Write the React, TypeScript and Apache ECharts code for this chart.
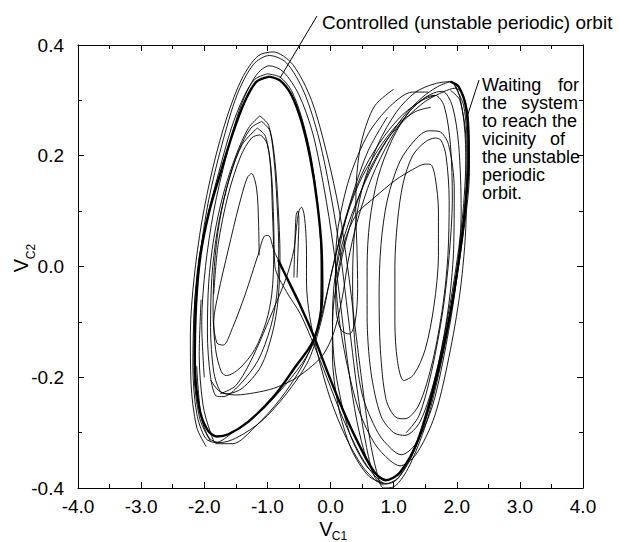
import React, { useEffect, useRef } from 'react';
import * as echarts from 'echarts';

const FONT = "'Liberation Sans', Arial, Helvetica, sans-serif";

const xRange = [-4, 4];
const yRange = [-0.4, 0.4];
const xStep = 1;
const yStep = 0.2;

// Controlled (unstable periodic) orbit, left scroll (thick)
const controlledLeft = [
  [-0.97, 0.343], [-0.8, 0.336], [-0.62, 0.31], [-0.46, 0.262], [-0.32, 0.195], [-0.21, 0.115],
  [-0.14, 0.03], [-0.13, -0.05], [-0.18, -0.1], [-0.3, -0.14], [-0.55, -0.18], [-0.9, -0.235],
  [-1.3, -0.28], [-1.62, -0.303], [-1.8, -0.307], [-1.95, -0.295], [-2.08, -0.255], [-2.15, -0.17],
  [-2.13, -0.07], [-2.06, 0.02], [-1.92, 0.1], [-1.74, 0.17], [-1.55, 0.24], [-1.37, 0.295],
  [-1.18, 0.333], [-0.97, 0.343],
];
// Controlled orbit, crossing to and around the right scroll (thick)
const controlledRight = [
  [-0.83, 0.012], [-0.65, -0.03], [-0.48, -0.07], [-0.25, -0.13], [-0.06, -0.187], [0.2, -0.26],
  [0.47, -0.326], [0.7, -0.372], [0.875, -0.386], [1.1, -0.372], [1.4, -0.31], [1.7, -0.19],
  [1.95, -0.05], [2.12, 0.09], [2.19, 0.2], [2.15, 0.285], [2.03, 0.325], [1.9, 0.334],
];
// Return of that loop along the left side of the right scroll
const rightLoopReturn = [
  [1.9, 0.334], [1.7, 0.325], [1.45, 0.305], [1.15, 0.27], [0.8, 0.21], [0.48, 0.135], [0.22, 0.055],
  [0.07, -0.02], [0.03, -0.1], [0.08, -0.19], [0.3, -0.3], [0.58, -0.362], [0.875, -0.386],
];
// Thin loop next to the controlled left loop
const leftLoopOuter = [
  [-1.0, 0.348], [-0.8, 0.342], [-0.62, 0.318], [-0.46, 0.27], [-0.32, 0.205], [-0.21, 0.12],
  [-0.15, 0.02], [-0.16, -0.08], [-0.26, -0.135], [-0.45, -0.175], [-0.8, -0.225], [-1.2, -0.27],
  [-1.55, -0.3], [-1.82, -0.318], [-1.98, -0.31], [-2.12, -0.265], [-2.18, -0.18], [-2.16, -0.08],
  [-2.09, 0.01], [-1.95, 0.09], [-1.77, 0.17], [-1.57, 0.25], [-1.38, 0.305], [-1.2, 0.338],
  [-1.0, 0.348],
];
// Inner left loops
const leftInner1 = [
  [-1.12, 0.272], [-0.98, 0.255], [-0.9, 0.2], [-0.85, 0.12], [-0.82, 0.03], [-0.85, -0.05],
  [-0.95, -0.11], [-1.15, -0.17], [-1.45, -0.215], [-1.7, -0.235], [-1.81, -0.234], [-1.9, -0.2],
  [-1.95, -0.12], [-1.93, -0.03], [-1.85, 0.05], [-1.7, 0.13], [-1.5, 0.2], [-1.3, 0.25], [-1.12, 0.272],
];
const leftInner2 = [
  [-1.09, 0.262], [-0.96, 0.245], [-0.88, 0.19], [-0.83, 0.11], [-0.8, 0.02], [-0.83, -0.06],
  [-0.92, -0.12], [-1.1, -0.18], [-1.4, -0.22], [-1.65, -0.23], [-1.75, -0.225], [-1.85, -0.19],
  [-1.9, -0.11], [-1.88, -0.02], [-1.8, 0.06], [-1.65, 0.14], [-1.45, 0.21], [-1.26, 0.25], [-1.09, 0.262],
];
const leftInner3 = [
  [-1.16, 0.25], [-1.03, 0.235], [-0.95, 0.18], [-0.92, 0.1], [-0.9, 0.02], [-0.93, -0.05],
  [-1.02, -0.1], [-1.2, -0.15], [-1.45, -0.185], [-1.65, -0.197], [-1.73, -0.19], [-1.82, -0.15],
  [-1.86, -0.08], [-1.84, 0.0], [-1.76, 0.08], [-1.6, 0.16], [-1.4, 0.22], [-1.16, 0.25],
];
// Inner loop that leaves towards the right scroll
const leftInnerCross = [
  [-1.85, -0.05], [-1.78, 0.04], [-1.62, 0.13], [-1.42, 0.2], [-1.25, 0.232], [-1.125, 0.2375],
  [-1.0, 0.22], [-0.93, 0.16], [-0.9, 0.08], [-0.88, 0.0], [-0.7, -0.045], [-0.48, -0.085],
  [-0.25, -0.145], [-0.06, -0.2], [0.2, -0.275], [0.47, -0.34], [0.7, -0.378], [0.88, -0.392],
  [1.1, -0.378], [1.4, -0.305], [1.7, -0.18], [1.95, -0.03], [2.1, 0.1], [2.15, 0.22], [2.05, 0.3], [1.9, 0.318],
];
// Innermost left spiral
const leftSpiral = [
  [-1.13, 0.02], [-1.14, 0.08], [-1.17, 0.14], [-1.25, 0.168], [-1.32, 0.16],
  [-1.45, 0.11], [-1.62, 0.03], [-1.78, -0.05], [-1.85, -0.1], [-1.8, -0.138], [-1.7, -0.142],
  [-1.55, -0.11], [-1.35, -0.05], [-1.15, 0.02], [-1.03, 0.056], [-0.97, 0.055], [-0.9, 0.03],
  [-0.83, 0.012],
];
// Small loop near (-0.5, 0.1)
const smallLoop = [
  [-1.75, -0.23], [-1.5, -0.215], [-1.23, -0.163], [-0.91, -0.079], [-0.7, -0.02], [-0.58, 0.03],
  [-0.54, 0.07], [-0.5, 0.1], [-0.46, 0.107], [-0.42, 0.095], [-0.39, 0.06], [-0.38, 0.02],
  [-0.38, -0.03], [-0.33, -0.09], [-0.2, -0.16], [0.0, -0.24], [0.25, -0.31], [0.5, -0.36],
  [0.7, -0.385], [0.84, -0.395],
];
const smallLoopTwin = [
  [-0.58, -0.02], [-0.565, 0.04], [-0.545, 0.092], [-0.52, 0.1], [-0.5, 0.085], [-0.515, 0.03], [-0.53, -0.02],
];
// Transient: waiting for the system to reach the orbit
const transient = [
  [-1.9, -0.205], [-1.75, -0.226], [-1.5, -0.232], [-1.2, -0.228], [-0.9, -0.22], [-0.6, -0.205],
  [-0.35, -0.185], [-0.12, -0.16], [0.05, -0.12], [0.18, -0.06], [0.28, 0.01], [0.42, 0.08],
  [0.65, 0.16], [0.95, 0.23], [1.25, 0.28], [1.5, 0.305], [1.66, 0.309], [1.8, 0.29], [1.9, 0.22],
  [1.93, 0.12], [1.88, 0.02], [1.78, -0.08], [1.6, -0.19], [1.4, -0.27], [1.2, -0.3],
];
// Right scroll spiral
const rightSpiral = [
  [0.1, -0.02], [0.22, 0.044], [0.41, 0.094], [0.7, 0.125], [1.03, 0.156], [1.3, 0.175], [1.5, 0.185],
  [1.59, 0.184], [1.66, 0.16], [1.71, 0.1], [1.71, 0.02], [1.64, -0.07], [1.5, -0.15], [1.32, -0.195],
  [1.16, -0.206], [1.06, -0.17], [1.02, -0.1], [1.02, 0.0], [1.06, 0.08], [1.15, 0.15], [1.3, 0.2],
  [1.5, 0.225], [1.66, 0.232], [1.75, 0.228], [1.83, 0.2], [1.88, 0.12], [1.86, 0.02], [1.78, -0.07],
  [1.62, -0.17], [1.4, -0.25], [1.18, -0.275], [1.03, -0.272], [0.88, -0.24], [0.79, -0.15],
  [0.77, -0.05], [0.8, 0.04], [0.9, 0.12], [1.1, 0.19], [1.35, 0.23], [1.55, 0.245], [1.72, 0.244],
  [1.87, 0.22], [1.96, 0.14], [1.95, 0.03], [1.86, -0.08], [1.68, -0.19], [1.42, -0.28], [1.18, -0.305],
  [1.0, -0.3], [0.8, -0.27], [0.64, -0.19], [0.58, -0.09], [0.58, 0.0], [0.62, 0.08], [0.75, 0.16],
  [0.98, 0.23], [1.25, 0.28], [1.5, 0.305], [1.68, 0.315], [1.78, 0.316], [1.93, 0.29], [2.03, 0.22],
  [2.07, 0.1], [2.0, -0.02], [1.85, -0.13], [1.62, -0.25], [1.35, -0.32], [1.12, -0.34], [0.97, -0.33],
  [0.75, -0.3], [0.5, -0.23], [0.38, -0.13], [0.35, -0.03], [0.38, 0.06], [0.5, 0.14], [0.75, 0.22],
  [1.05, 0.28], [1.35, 0.315], [1.65, 0.33], [1.91, 0.334], [2.06, 0.3], [2.14, 0.22], [2.15, 0.1],
  [2.07, -0.03], [1.9, -0.15], [1.65, -0.27], [1.35, -0.34], [1.1, -0.36], [0.94, -0.35], [0.7, -0.32],
  [0.45, -0.26], [0.25, -0.17], [0.12, -0.08], [0.08, 0.0], [0.12, 0.07], [0.3, 0.16], [0.6, 0.24],
  [0.95, 0.29], [1.3, 0.315], [1.55, 0.315],
];
// Narrow loop near (0.25, -0.05)
const narrowLoop = [
  [0.9, 0.27], [0.6, 0.21], [0.35, 0.13], [0.17, 0.05], [0.08, -0.02], [0.09, -0.08], [0.17, -0.115],
  [0.3, -0.122], [0.39, -0.1], [0.43, -0.04], [0.42, 0.03], [0.4, 0.1], [0.42, 0.17], [0.5, 0.23],
  [0.7, 0.29], [1.0, 0.32],
];
// Crossing arcs: left top -> right bottom
const crossArc1 = [
  [-1.97, -0.325], [-2.12, -0.29], [-2.21, -0.21], [-2.22, -0.12], [-2.16, -0.02], [-2.04, 0.08],
  [-1.86, 0.18], [-1.64, 0.27], [-1.4, 0.34], [-1.15, 0.38], [-0.91, 0.3875], [-0.6, 0.365],
  [-0.3, 0.3], [-0.05, 0.2], [0.14, 0.1], [0.27, 0.0], [0.38, -0.1], [0.5, -0.21], [0.62, -0.31],
  [0.73, -0.37], [0.84, -0.4], [1.0, -0.398], [1.25, -0.36], [1.55, -0.27], [1.85, -0.12], [2.08, 0.04],
  [2.2, 0.17], [2.19, 0.26], [2.1, 0.31], [1.97, 0.322], [1.8, 0.316], [1.5, 0.298], [1.2, 0.268],
  [0.9, 0.23], [0.6, 0.17], [0.35, 0.09], [0.15, 0.0], [0.04, -0.08], [0.03, -0.16], [0.12, -0.25],
  [0.33, -0.33], [0.6, -0.378], [0.84, -0.392],
];
const crossArc2 = [
  [-1.9, -0.316], [-2.07, -0.275], [-2.16, -0.19], [-2.16, -0.09], [-2.08, 0.01], [-1.93, 0.12],
  [-1.72, 0.22], [-1.48, 0.31], [-1.22, 0.365], [-0.97, 0.381], [-0.7, 0.368], [-0.42, 0.315],
  [-0.18, 0.23], [0.02, 0.12], [0.16, 0.02], [0.28, -0.09], [0.42, -0.22], [0.56, -0.32], [0.7, -0.38],
  [0.87, -0.393], [1.05, -0.385], [1.3, -0.34], [1.6, -0.24], [1.9, -0.08], [2.1, 0.08], [2.17, 0.2],
  [2.11, 0.29], [1.95, 0.33],
];
const crossArc3 = [
  [-2.0, -0.2], [-2.04, -0.1], [-1.98, 0.0], [-1.85, 0.1], [-1.65, 0.2], [-1.42, 0.29], [-1.18, 0.345],
  [-0.97, 0.3625], [-0.75, 0.352], [-0.5, 0.31], [-0.28, 0.24], [-0.1, 0.14], [0.04, 0.04], [0.15, -0.06],
  [0.28, -0.18], [0.42, -0.28], [0.58, -0.35], [0.75, -0.38], [0.9, -0.385],
];
// Crossing arcs: right top -> left bottom
const returnArc1 = [
  [1.66, 0.309], [1.45, 0.3], [1.15, 0.275], [0.85, 0.235], [0.55, 0.18], [0.3, 0.11], [0.1, 0.03],
  [-0.06, -0.05], [-0.22, -0.12], [-0.45, -0.18], [-0.8, -0.24], [-1.2, -0.29], [-1.55, -0.32],
  [-1.8, -0.32], [-1.9, -0.3], [-2.02, -0.25], [-2.08, -0.16], [-2.05, -0.06],
];
const returnArc2 = [
  [1.59, 0.2875], [1.35, 0.28], [1.05, 0.255], [0.75, 0.21], [0.45, 0.15], [0.2, 0.07], [0.0, -0.02],
  [-0.15, -0.1], [-0.35, -0.17], [-0.7, -0.23], [-1.1, -0.28], [-1.5, -0.31], [-1.75, -0.318],
  [-1.92, -0.31], [-2.05, -0.27], [-2.12, -0.18],
];

const thinCurves = [
  leftLoopOuter, leftInner1, leftInner2, leftInner3, leftInnerCross, leftSpiral, smallLoop,
  smallLoopTwin, transient, rightSpiral, narrowLoop, crossArc1, crossArc2, crossArc3,
  returnArc1, returnArc2, rightLoopReturn,
];
const thickCurves = [controlledLeft, controlledRight];

const fmt = (v: number) => (Math.abs(v) < 1e-9 ? 0 : v).toFixed(1);

function makeAxisCommon() {
  return {
    axisLine: { show: true, onZero: false, lineStyle: { color: '#000', width: 1 } },
    axisTick: { show: true, inside: true, length: 6, lineStyle: { color: '#000', width: 1 } },
    minorTick: { show: true, splitNumber: 2, length: 4, lineStyle: { color: '#000', width: 1 } },
    splitLine: { show: false },
    minorSplitLine: { show: false },
  };
}

export default function App() {
  const ref = useRef<HTMLDivElement>(null);
  useEffect(() => {
    if (!ref.current) return;
    const chart = echarts.init(ref.current, undefined, { renderer: 'svg' });
    const labelStyle = { fontSize: 19, color: '#000', fontFamily: FONT };
    const series: any[] = [];
    thinCurves.forEach((c, i) => {
      series.push({
        type: 'line', name: 'traj' + i, data: c, showSymbol: false, symbol: 'none', smooth: 0.3,
        lineStyle: { color: '#000', width: 0.9 }, silent: true, z: 2,
      });
    });
    thickCurves.forEach((c, i) => {
      series.push({
        type: 'line', name: 'ctrl' + i, data: c, showSymbol: false, symbol: 'none', smooth: 0.3,
        lineStyle: { color: '#000', width: 2.4 }, silent: true, z: 3,
      });
    });
    const textStyle = (text: string, size: number, align = 'left', lh?: number) => ({
      text, fill: '#000', fontSize: size, fontFamily: FONT,
      align, textAlign: align, verticalAlign: 'middle', textVerticalAlign: 'middle',
      ...(lh ? { lineHeight: lh } : {}),
    });
    const waitingLines = [
      ['Waiting', 'for'], ['the', 'system'], ['to reach the', ''], ['vicinity', 'of'],
      ['the unstable', ''], ['periodic', ''], ['orbit.', ''],
    ];
    const rightEdges = [579, 578, 0, 565, 0, 0, 0];
    const graphics: any[] = [
      { type: 'line', shape: { x1: 317, y1: 16, x2: 280, y2: 78 }, style: { stroke: '#000', lineWidth: 1 } },
      { type: 'line', shape: { x1: 479, y1: 80, x2: 467, y2: 117 }, style: { stroke: '#000', lineWidth: 1 } },
      { type: 'text', x: 322, y: 22, style: textStyle('Controlled (unstable periodic) orbit', 19) },
      { type: 'text', x: 326, y: 529, style: textStyle('V', 20, 'center') },
      { type: 'text', x: 339.5, y: 535.5, style: textStyle('C1', 12, 'center') },
      { type: 'text', x: 20.5, y: 265.5, rotation: Math.PI / 2, style: textStyle('V', 20, 'center') },
      { type: 'text', x: 31, y: 251.5, rotation: Math.PI / 2, style: textStyle('C2', 12, 'center') },
    ];
    waitingLines.forEach((ln, i) => {
      const y = 84.5 + i * 18;
      graphics.push({ type: 'text', x: 482, y, style: textStyle(ln[0], 18, 'left', 17) });
      if (ln[1]) graphics.push({ type: 'text', x: rightEdges[i], y, style: textStyle(ln[1], 18, 'right', 17) });
    });
    chart.setOption({
      animation: false,
      backgroundColor: '#fff',
      grid: { left: 78, top: 45, width: 505, height: 443, containLabel: false },
      xAxis: [
        {
          type: 'value', position: 'bottom', min: xRange[0], max: xRange[1], interval: xStep,
          ...makeAxisCommon(),
          axisLabel: { ...labelStyle, margin: 9, formatter: fmt },
        },
        {
          type: 'value', position: 'top', min: xRange[0], max: xRange[1], interval: xStep,
          ...makeAxisCommon(), axisLabel: { show: false },
        },
      ],
      yAxis: [
        {
          type: 'value', position: 'left', min: yRange[0], max: yRange[1], interval: yStep,
          ...makeAxisCommon(),
          axisLabel: { ...labelStyle, margin: 14, formatter: fmt },
        },
        {
          type: 'value', position: 'right', min: yRange[0], max: yRange[1], interval: yStep,
          ...makeAxisCommon(), axisLabel: { show: false },
        },
      ],
      series,
      graphic: graphics,
    });
    return () => chart.dispose();
  }, []);
  return (
    <div
      ref={ref}
      style={{ position: 'fixed', left: 0, top: 0, width: 620, height: 542, background: '#fff' }}
    />
  );
}
